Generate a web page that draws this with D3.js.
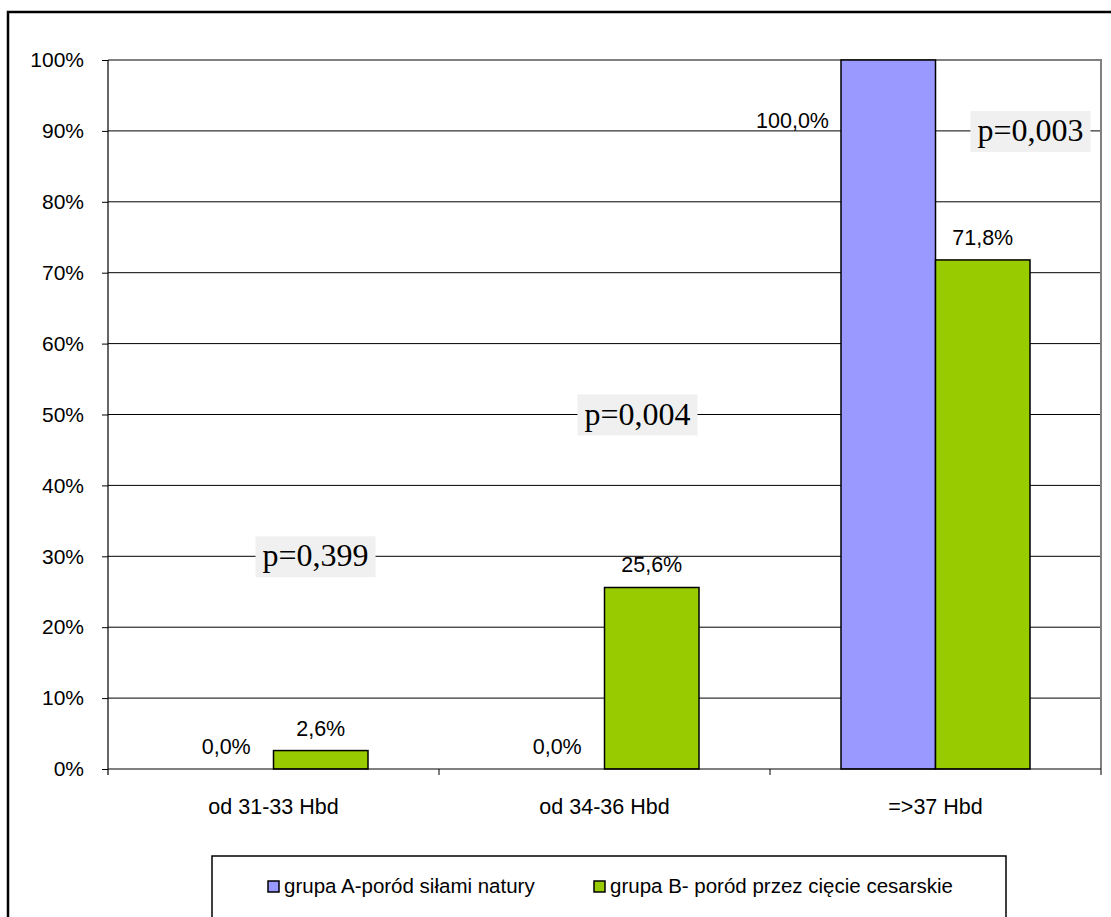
<!DOCTYPE html>
<html>
<head>
<meta charset="utf-8">
<script src="https://cdn.jsdelivr.net/npm/d3@7"></script>
<style>
  html, body { margin: 0; padding: 0; background: #fff; }
  svg { display: block; }
</style>
</head>
<body>
<svg id="chart" width="1111" height="917"></svg>
<script>
// Gestational age groups and share of births per group
const categories = ["od 31-33 Hbd", "od 34-36 Hbd", "=>37 Hbd"];
const seriesNames = ["grupa A-poród siłami natury", "grupa B- poród przez cięcie cesarskie"];
const groupA = [0.0, 0.0, 100.0];
const groupB = [2.6, 25.6, 71.8];
const valueLabels = [["0,0%", "2,6%"], ["0,0%", "25,6%"], ["100,0%", "71,8%"]];
const pValues = ["p=0,399", "p=0,004", "p=0,003"];
const yTickValues = [0, 10, 20, 30, 40, 50, 60, 70, 80, 90, 100];
const yTickLabels = ["0%", "10%", "20%", "30%", "40%", "50%", "60%", "70%", "80%", "90%", "100%"];

const colors = ["#9999FF", "#99CC00"];
const sans = "'Liberation Sans', Arial, sans-serif";
const serif = "'Liberation Serif', 'Times New Roman', serif";

const svg = d3.select("#chart");
const plot = { left: 108, right: 1101, top: 60, bottom: 769 };

// outer chart frame
svg.append("rect")
  .attr("x", 8).attr("y", 12).attr("width", 1130).attr("height", 1000)
  .attr("fill", "#fff").attr("stroke", "#000").attr("stroke-width", 2.5);

const x0 = d3.scaleBand().domain(categories).range([plot.left, plot.right]).padding(0);
const barW = x0.bandwidth() * 0.2855;
const y = d3.scaleLinear().domain([0, 100]).range([plot.bottom, plot.top]);

// horizontal gridlines
svg.append("g").selectAll("line")
  .data(yTickValues.filter(v => v > 0 && v < 100))
  .join("line")
  .attr("x1", plot.left).attr("x2", plot.right)
  .attr("y1", d => y(d)).attr("y2", d => y(d))
  .attr("stroke", "#000").attr("stroke-width", 1);

// plot area frame (top and right edges in grey)
svg.append("path")
  .attr("d", `M${plot.left},${y(100)}H${plot.right}V${plot.bottom}`)
  .attr("fill", "none").attr("stroke", "#808080").attr("stroke-width", 2);

// bars
const seriesData = [groupA, groupB];
categories.forEach((cat, i) => {
  const cx = x0(cat) + x0.bandwidth() / 2;
  seriesData.forEach((vals, s) => {
    const bx = cx + (s - 1) * barW;
    const v = vals[i];
    if (v > 0) {
      svg.append("rect")
        .attr("x", bx).attr("y", y(v))
        .attr("width", barW).attr("height", y(0) - y(v))
        .attr("fill", colors[s]).attr("stroke", "#000").attr("stroke-width", 1.5);
    }
    // value label
    const atTop = v >= y.domain()[1];
    const t = svg.append("text")
      .attr("font-family", sans).attr("font-size", 21.5).attr("fill", "#000")
      .text(valueLabels[i][s]);
    if (atTop) {
      t.attr("x", bx - 12).attr("y", y(90) - 3).attr("text-anchor", "end");
    } else {
      t.attr("x", bx + barW / 2).attr("y", y(v) - 15).attr("text-anchor", "middle");
    }
  });
});

// y axis
const yAxis = d3.axisLeft(y)
  .tickValues(yTickValues)
  .tickFormat((d, i) => yTickLabels[i])
  .tickSize(6).tickSizeOuter(0).tickPadding(18);
const gy = svg.append("g").attr("transform", `translate(${plot.left},0)`).call(yAxis);
gy.select(".domain").remove();
gy.selectAll(".tick line").attr("stroke", "#000").attr("stroke-width", 1);
gy.selectAll(".tick text").attr("font-family", sans).attr("font-size", 21).attr("fill", "#000");
svg.append("line")
  .attr("x1", plot.left).attr("x2", plot.left)
  .attr("y1", plot.top).attr("y2", plot.bottom + 6)
  .attr("stroke", "#000").attr("stroke-width", 1.2);

// x axis
const xAxis = d3.axisBottom(x0).tickSize(0).tickPadding(30);
const gx = svg.append("g").attr("transform", `translate(0,${plot.bottom})`).call(xAxis);
gx.select(".domain").remove();
gx.selectAll(".tick text").attr("font-family", sans).attr("font-size", 21.5).attr("fill", "#000");
svg.append("line")
  .attr("x1", plot.left).attr("x2", plot.right)
  .attr("y1", plot.bottom).attr("y2", plot.bottom)
  .attr("stroke", "#000").attr("stroke-width", 1.2);
svg.append("g").selectAll("line")
  .data(categories.slice(1).map(c => x0(c)).concat([plot.right]))
  .join("line")
  .attr("x1", d => d).attr("x2", d => d)
  .attr("y1", plot.bottom).attr("y2", plot.bottom + 6)
  .attr("stroke", "#000").attr("stroke-width", 1);

// significance annotations, each sitting on a gridline
const pPlacement = [{ level: 30, dx: 42 }, { level: 50, dx: 33 }, { level: 90, dx: 95 }];
pValues.forEach((p, i) => {
  const cx = x0(categories[i]) + x0.bandwidth() / 2 + pPlacement[i].dx;
  const base = y(pPlacement[i].level) + 10;
  const g = svg.append("g");
  const box = g.append("rect").attr("fill", "#f0f0f0");
  const txt = g.append("text")
    .attr("x", cx).attr("y", base).attr("text-anchor", "middle")
    .attr("font-family", serif).attr("font-size", 32).attr("fill", "#000")
    .text(p);
  const w = txt.node().getComputedTextLength();
  box.attr("x", cx - w / 2 - 7).attr("y", base - 30)
    .attr("width", w + 14).attr("height", 41);
});

// legend
const lg = svg.append("g");
lg.append("rect")
  .attr("x", 212).attr("y", 856).attr("width", 794).attr("height", 80)
  .attr("fill", "#fff").attr("stroke", "#000").attr("stroke-width", 1.5);
const legendX = [268, 594];
seriesNames.forEach((name, s) => {
  lg.append("rect")
    .attr("x", legendX[s]).attr("y", 881).attr("width", 11).attr("height", 11)
    .attr("fill", colors[s]).attr("stroke", "#000").attr("stroke-width", 1.5);
  lg.append("text")
    .attr("x", legendX[s] + 16).attr("y", 893)
    .attr("font-family", sans).attr("font-size", 20.5).attr("fill", "#000")
    .text(name);
});
</script>
</body>
</html>
